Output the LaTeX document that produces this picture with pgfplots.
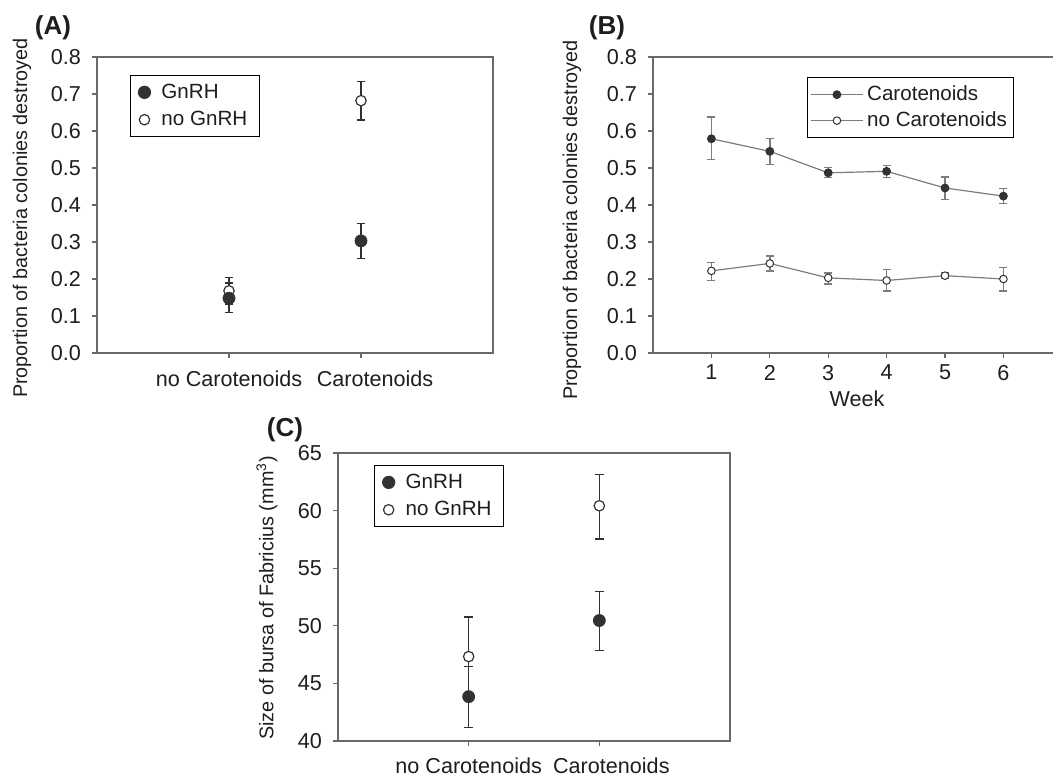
\documentclass[border=0pt]{standalone}
\usepackage{fontspec}
\setmainfont{Liberation Sans}
\usepackage{pgfplots}
\pgfplotsset{compat=1.18}

\definecolor{framegray}{RGB}{105,105,105}
\definecolor{dotdark}{RGB}{50,50,50}
\definecolor{linegray}{RGB}{125,125,125}
\definecolor{txt}{RGB}{30,30,30}

\pgfplotsset{
  panel/.style={
    scale only axis,
    anchor=south west,
    axis line style={framegray, line width=0.6pt},
    tick style={framegray, line width=0.6pt},
    tick align=outside,
    major tick length=2.5pt,
    xtick pos=bottom, ytick pos=left,
    tick label style={font=\fontsize{10.8}{13}\selectfont, text=txt},
    yticklabel style={xshift=-2pt},
    /pgf/number format/assume math mode=true,
    legend style={draw=black, line width=0.6pt, font=\fontsize{10.3}{12.5}\selectfont,
      text=txt, inner xsep=1.5pt, inner ysep=2pt, row sep=1pt, cells={anchor=west}},
  },
  dotlegend/.style={legend style={inner xsep=4pt,
      /tikz/every odd column/.append style={column sep=3.5pt}}},
  hollow/.style={only marks, mark=*, mark size=2.6pt,
    mark options={draw=dotdark, fill=white, line width=0.6pt},
    error bars/.cd, y dir=both, y explicit,
    error bar style={dotdark, line width=0.7pt},
    error mark options={rotate=90, mark size=2.2pt, dotdark, line width=0.7pt}},
  filled/.style={only marks, mark=*, mark size=3pt,
    mark options={draw=dotdark, fill=dotdark},
    error bars/.cd, y dir=both, y explicit,
    error bar style={dotdark, line width=0.7pt},
    error mark options={rotate=90, mark size=2.2pt, dotdark, line width=0.7pt}},
}

\begin{document}
\begin{tikzpicture}
\useasboundingbox (0,0) rectangle (526.5pt,388.5pt);
\clip (0,0) rectangle (526.5pt,388.5pt);

% (A)
\begin{axis}[panel, dotlegend, at={(48.5pt,212pt)}, width=198pt, height=148pt,
    xmin=0, xmax=3, ymin=0, ymax=0.8,
    xtick={1,2}, xticklabels={{no Carotenoids\hspace{1.5pt}}, {\hspace{14pt}Carotenoids}},
    xticklabel style={yshift=-3pt},
    ytick={0,0.1,0.2,0.3,0.4,0.5,0.6,0.7,0.8},
    yticklabel style={/pgf/number format/.cd, fixed, fixed zerofill, precision=1},
    legend style={at={(0.083,0.939)}, anchor=north west},
    reverse legend]
\addplot[hollow] coordinates {(1,0.168) +=(0,0.036) -=(0,0.036) (2,0.682) +=(0,0.051) -=(0,0.052)};
\addlegendentry{no GnRH}
\addplot[filled] coordinates {(1,0.148) +=(0,0.041) -=(0,0.038) (2,0.303) +=(0,0.047) -=(0,0.048)};
\addlegendentry{GnRH}
\end{axis}

% (B)
\begin{axis}[panel, at={(326.5pt,212pt)}, width=204.4pt, height=148pt,
    xmin=0, xmax=7, ymin=0, ymax=0.8,
    xtick={1,2,3,4,5,6},
    ytick={0,0.1,0.2,0.3,0.4,0.5,0.6,0.7,0.8},
    yticklabel style={/pgf/number format/.cd, fixed, fixed zerofill, precision=1},
    legend style={at={(0.377,0.932)}, anchor=north west, row sep=0pt},
    legend image code/.code={\draw[mark repeat=2, mark phase=2, #1]
      plot coordinates {(0cm,0cm) (0.45cm,0cm) (0.9cm,0cm)};}]
\addplot[color=linegray, line width=0.6pt, mark=*, mark size=1.9pt,
    mark options={draw=dotdark, fill=dotdark},
    error bars/.cd, y dir=both, y explicit,
    error bar style={linegray, line width=0.7pt},
    error mark options={rotate=90, mark size=2pt, linegray, line width=0.7pt}]
  coordinates {
    (1,0.579) +=(0,0.059) -=(0,0.056)
    (2,0.545) +=(0,0.034) -=(0,0.036)
    (3,0.487) +=(0,0.014) -=(0,0.013)
    (4,0.491) +=(0,0.016) -=(0,0.017)
    (5,0.446) +=(0,0.030) -=(0,0.031)
    (6,0.424) +=(0,0.020) -=(0,0.020)};
\addlegendentry{Carotenoids}
\addplot[color=linegray, line width=0.6pt, mark=*, mark size=1.9pt,
    mark options={draw=dotdark, fill=white, line width=0.5pt},
    error bars/.cd, y dir=both, y explicit,
    error bar style={linegray, line width=0.7pt},
    error mark options={rotate=90, mark size=2pt, linegray, line width=0.7pt}]
  coordinates {
    (1,0.222) +=(0,0.023) -=(0,0.026)
    (2,0.242) +=(0,0.020) -=(0,0.020)
    (3,0.203) +=(0,0.013) -=(0,0.016)
    (4,0.196) +=(0,0.029) -=(0,0.028)
    (5,0.209) +=(0,0.007) -=(0,0.008)
    (6,0.200) +=(0,0.031) -=(0,0.032)};
\addlegendentry{no Carotenoids}
\end{axis}

% (C)
\begin{axis}[panel, dotlegend, at={(169pt,18pt)}, width=196pt, height=144pt,
    xmin=0, xmax=3, ymin=40, ymax=65,
    xtick={1,2}, xticklabels={{no Carotenoids\hspace{5pt}}, {\hspace{12pt}Carotenoids}},
    xticklabel style={yshift=-2.5pt},
    ytick={40,45,50,55,60,65},
    legend style={at={(0.092,0.958)}, anchor=north west},
    reverse legend]
\addplot[hollow] coordinates {(1,47.33) +=(0,3.45) -=(0,3.45) (2,60.42) +=(0,2.73) -=(0,2.87)};
\addlegendentry{no GnRH}
\addplot[filled] coordinates {(1,43.85) +=(0,2.61) -=(0,2.69) (2,50.46) +=(0,2.54) -=(0,2.61)};
\addlegendentry{GnRH}
\end{axis}

% panel letters and axis titles
\node[font=\fontsize{13}{15}\selectfont\bfseries, text=txt] at (26.5pt,374.5pt) {(A)};
\node[font=\fontsize{13}{15}\selectfont\bfseries, text=txt] at (303.5pt,374.5pt) {(B)};
\node[font=\fontsize{13}{15}\selectfont\bfseries, text=txt] at (142.5pt,173.5pt) {(C)};
\node[rotate=90, font=\fontsize{9.9}{12}\selectfont, text=txt] at (11pt,279.5pt) {Proportion of bacteria colonies destroyed};
\node[rotate=90, font=\fontsize{9.9}{12}\selectfont, text=txt] at (286pt,278.5pt) {Proportion of bacteria colonies destroyed};
\node[rotate=90, font=\fontsize{9.9}{12}\selectfont, text=txt] at (133.5pt,89.5pt) {Size of bursa of Fabricius (mm\textsuperscript{3})};
\node[font=\fontsize{10.8}{13}\selectfont, text=txt] at (428.5pt,189pt) {Week};
\end{tikzpicture}
\end{document}
